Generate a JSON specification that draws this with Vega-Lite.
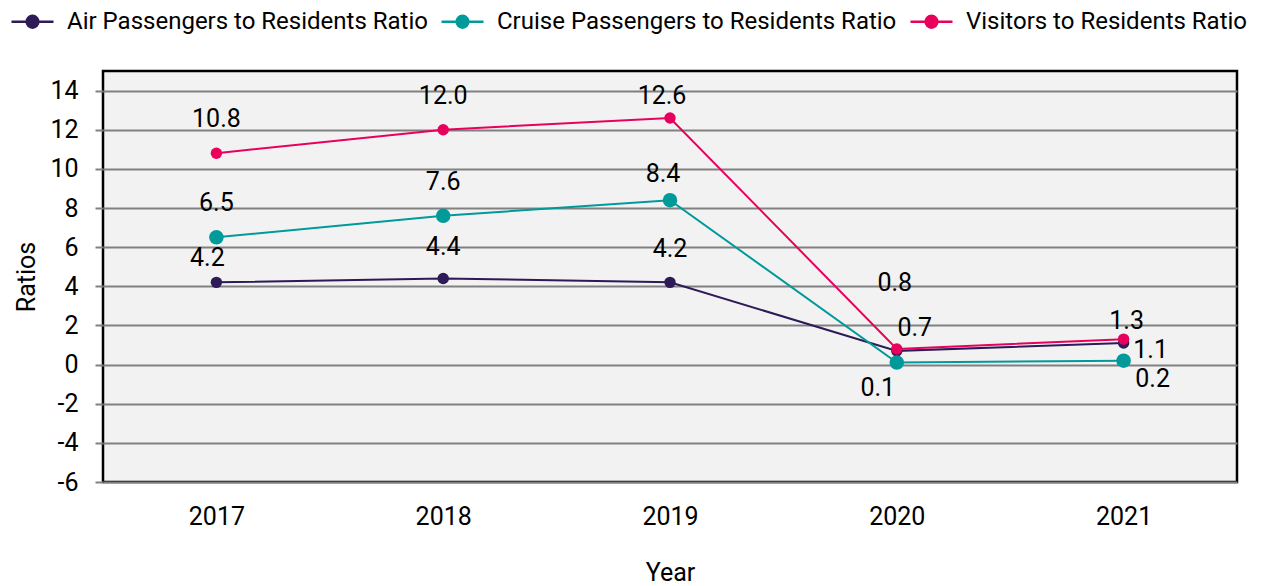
{
  "$schema": "https://vega.github.io/schema/vega-lite/v6.json",
  "autosize": "none",
  "padding": {"left": 103, "top": 71, "right": 25, "bottom": 104},
  "width": 1134,
  "height": 411,
  "background": "white",
  "config": {
    "font": "Roboto",
    "view": {"fill": "#f2f2f2", "stroke": "black", "strokeWidth": 2.5},
    "axis": {"labelFont": "Roboto", "titleFont": "Roboto", "labelColor": "black", "titleColor": "black", "titleFontWeight": "normal"}
  },
  "data": {
    "values": [
      {"year": "2017", "series": "Air Passengers to Residents Ratio", "value": 4.2},
      {"year": "2018", "series": "Air Passengers to Residents Ratio", "value": 4.4},
      {"year": "2019", "series": "Air Passengers to Residents Ratio", "value": 4.2},
      {"year": "2020", "series": "Air Passengers to Residents Ratio", "value": 0.7},
      {"year": "2021", "series": "Air Passengers to Residents Ratio", "value": 1.1},
      {"year": "2017", "series": "Cruise Passengers to Residents Ratio", "value": 6.5},
      {"year": "2018", "series": "Cruise Passengers to Residents Ratio", "value": 7.6},
      {"year": "2019", "series": "Cruise Passengers to Residents Ratio", "value": 8.4},
      {"year": "2020", "series": "Cruise Passengers to Residents Ratio", "value": 0.1},
      {"year": "2021", "series": "Cruise Passengers to Residents Ratio", "value": 0.2},
      {"year": "2017", "series": "Visitors to Residents Ratio", "value": 10.8},
      {"year": "2018", "series": "Visitors to Residents Ratio", "value": 12.0},
      {"year": "2019", "series": "Visitors to Residents Ratio", "value": 12.6},
      {"year": "2020", "series": "Visitors to Residents Ratio", "value": 0.8},
      {"year": "2021", "series": "Visitors to Residents Ratio", "value": 1.3}
    ]
  },
  "encoding": {
    "x": {
      "field": "year", "type": "ordinal",
      "scale": {"type": "point", "padding": 0.5},
      "axis": {"title": "Year", "labelAngle": 0, "labelFontSize": 25, "titleFontSize": 25, "ticks": false, "domain": false, "grid": false, "labelPadding": 22, "titlePadding": 31}
    },
    "y": {
      "field": "value", "type": "quantitative",
      "scale": {"domain": [-6, 15], "nice": false, "zero": false},
      "axis": {"title": "Ratios", "values": [-6, -4, -2, 0, 2, 4, 6, 8, 10, 12, 14], "labelExpr": "'' + datum.value", "labelFontSize": 25, "titleFontSize": 25, "grid": true, "gridColor": "#808080", "gridWidth": 2, "gridOpacity": 1, "tickColor": "#808080", "tickWidth": 2, "tickSize": 8, "domain": false, "labelPadding": 17, "titlePadding": 10}
    },
    "color": {
      "field": "series", "type": "nominal",
      "scale": {"domain": ["Air Passengers to Residents Ratio", "Cruise Passengers to Residents Ratio", "Visitors to Residents Ratio"], "range": ["#2e1a56", "#009a9a", "#e8005c"]},
      "legend": {
        "title": null, "orient": "none", "direction": "horizontal", "legendX": -93, "legendY": -72,
        "symbolType": "M-1,0H1M-0.28,0A0.28,0.28 0 1,1 0.28,0A0.28,0.28 0 1,1 -0.28,0Z",
        "symbolSize": 1764, "symbolStrokeWidth": 2.5, "labelFontSize": 24, "labelFont": "Roboto", "labelColor": "black", "labelOffset": 12, "columnPadding": 8, "labelLimit": 500,
        "encode": {"symbols": {"update": {"size": {"value": 1764}, "strokeWidth": {"value": 2.5}}}}
      }
    }
  },
  "layer": [
    {"mark": {"type": "line", "strokeWidth": 2}},
    {
      "mark": {"type": "point", "filled": true, "opacity": 1},
      "encoding": {
        "size": {"condition": {"test": "datum.series == 'Cruise Passengers to Residents Ratio'", "value": 210}, "value": 130}
      }
    },
    {
      "transform": [{"filter": "(datum.year == '2017' || datum.year == '2018') && datum.series != 'Air Passengers to Residents Ratio'"}],
      "mark": {"type": "text", "fontSize": 25, "dy": -34},
      "encoding": {"text": {"field": "value", "format": ".1f"}, "color": {"value": "black"}}
    },
    {
      "transform": [{"filter": "datum.series == 'Air Passengers to Residents Ratio' && datum.year == '2018'"}],
      "mark": {"type": "text", "fontSize": 25, "dy": -31},
      "encoding": {"text": {"field": "value", "format": ".1f"}, "color": {"value": "black"}}
    },
    {
      "transform": [{"filter": "datum.series == 'Air Passengers to Residents Ratio' && datum.year == '2019'"}],
      "mark": {"type": "text", "fontSize": 25, "dy": -33},
      "encoding": {"text": {"field": "value", "format": ".1f"}, "color": {"value": "black"}}
    },
    {
      "transform": [{"filter": "datum.series == 'Visitors to Residents Ratio' && datum.year == '2019'"}],
      "mark": {"type": "text", "fontSize": 25, "dx": -8, "dy": -22},
      "encoding": {"text": {"field": "value", "format": ".1f"}, "color": {"value": "black"}}
    },
    {
      "transform": [{"filter": "datum.series == 'Cruise Passengers to Residents Ratio' && datum.year == '2019'"}],
      "mark": {"type": "text", "fontSize": 25, "dx": -7, "dy": -26},
      "encoding": {"text": {"field": "value", "format": ".1f"}, "color": {"value": "black"}}
    },
    {
      "transform": [{"filter": "datum.series == 'Air Passengers to Residents Ratio' && datum.year == '2017'"}],
      "mark": {"type": "text", "fontSize": 25, "dx": -9, "dy": -24},
      "encoding": {"text": {"field": "value", "format": ".1f"}, "color": {"value": "black"}}
    },
    {
      "transform": [{"filter": "datum.series == 'Visitors to Residents Ratio' && datum.year == '2020'"}],
      "mark": {"type": "text", "fontSize": 25, "dx": -2, "dy": -66},
      "encoding": {"text": {"field": "value", "format": ".1f"}, "color": {"value": "black"}}
    },
    {
      "transform": [{"filter": "datum.series == 'Air Passengers to Residents Ratio' && datum.year == '2020'"}],
      "mark": {"type": "text", "fontSize": 25, "dx": 18, "dy": -23},
      "encoding": {"text": {"field": "value", "format": ".1f"}, "color": {"value": "black"}}
    },
    {
      "transform": [{"filter": "datum.series == 'Cruise Passengers to Residents Ratio' && datum.year == '2020'"}],
      "mark": {"type": "text", "fontSize": 25, "dx": -19, "dy": 25},
      "encoding": {"text": {"field": "value", "format": ".1f"}, "color": {"value": "black"}}
    },
    {
      "transform": [{"filter": "datum.series == 'Visitors to Residents Ratio' && datum.year == '2021'"}],
      "mark": {"type": "text", "fontSize": 25, "dx": 3, "dy": -18},
      "encoding": {"text": {"field": "value", "format": ".1f"}, "color": {"value": "black"}}
    },
    {
      "transform": [{"filter": "datum.series == 'Air Passengers to Residents Ratio' && datum.year == '2021'"}],
      "mark": {"type": "text", "fontSize": 25, "dx": 27, "dy": 7},
      "encoding": {"text": {"field": "value", "format": ".1f"}, "color": {"value": "black"}}
    },
    {
      "transform": [{"filter": "datum.series == 'Cruise Passengers to Residents Ratio' && datum.year == '2021'"}],
      "mark": {"type": "text", "fontSize": 25, "dx": 29, "dy": 18},
      "encoding": {"text": {"field": "value", "format": ".1f"}, "color": {"value": "black"}}
    }
  ]
}
